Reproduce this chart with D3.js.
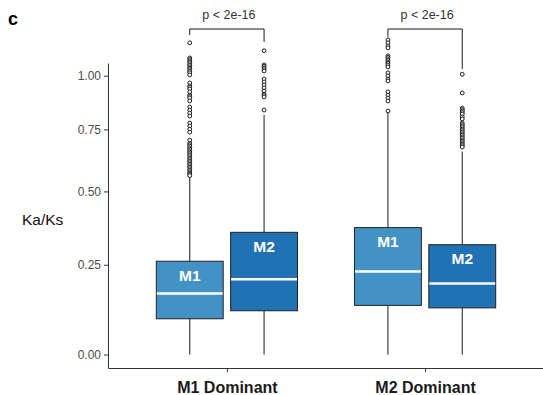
<!DOCTYPE html>
<html>
<head>
<meta charset="utf-8">
<script src="https://cdn.jsdelivr.net/npm/d3@7"></script>
<style>
  html, body { margin: 0; padding: 0; background: #fff; }
  svg { display: block; font-family: "Liberation Sans", Arial, sans-serif; }
</style>
</head>
<body>
<svg id="chart" width="543" height="395"></svg>
<script>
// groups on the x axis and the two series dodged inside each group
const groups = ['M1 Dominant', 'M2 Dominant'];
const series = ['M1', 'M2'];

// box stats, one row per group, one column per series
const whiskerLow = [[0, 0], [0, 0]];
const q1 = [[0.093, 0.115], [0.130, 0.123]];
const medians = [[0.164, 0.206], [0.229, 0.193]];
const q3 = [[0.261, 0.355], [0.371, 0.314]];
const whiskerHigh = [[0.556, 0.814], [0.829, 0.656]];

// outlying points
const outliers = [
  [
    [1.17, 1.09, 1.082, 1.075, 1.068, 1.06, 1.052, 1.044, 1.037, 1.03, 1.022, 1.014, 1.004,
     0.964, 0.95, 0.943, 0.935, 0.921, 0.906, 0.899, 0.892, 0.878, 0.85, 0.836, 0.823, 0.809,
     0.778, 0.765, 0.751, 0.738, 0.704, 0.691, 0.685, 0.679, 0.672, 0.666, 0.66, 0.654, 0.648,
     0.642, 0.635, 0.629, 0.623, 0.617, 0.611, 0.605, 0.599, 0.593, 0.587, 0.581, 0.575, 0.57,
     0.565, 0.56],
    [1.128, 1.054, 1.047, 1.039, 1.031, 1.023, 0.983, 0.969, 0.954, 0.94, 0.925, 0.911,
     0.904, 0.897, 0.836]
  ],
  [
    [1.186, 1.17, 1.153, 1.143, 1.101, 1.093, 1.085, 1.077, 1.069, 1.062, 1.054, 1.044,
     1.014, 0.999, 0.983, 0.974, 0.921, 0.906, 0.892, 0.878, 0.832],
    [1.007, 0.916, 0.845, 0.838, 0.832, 0.825, 0.818, 0.805, 0.796, 0.778, 0.771, 0.765,
     0.758, 0.751, 0.745, 0.738, 0.731, 0.725, 0.718, 0.712, 0.705, 0.699, 0.693, 0.687,
     0.681, 0.675]
  ]
];

// significance brackets: label, bar height, lower end of left / right tips
const pLabels = ['p < 2e-16', 'p < 2e-16'];
const bracketTop = [1.246, 1.246];
const tipLeft = [1.213, 1.202];
const tipRight = [1.175, 1.034];

const yTicks = [0, 0.25, 0.5, 0.75, 1];
const fills = ['#4292c6', '#2171b5'];

const svg = d3.select('#chart');
const padL = 108, padR = 544, padT = 63, padB = 368;

// log(1 + x) axis
const y = d3.scaleSymlog().constant(1).domain([-0.034, 1.064]).range([padB, padT]);
const x = d3.scalePoint().domain(groups).range([padL, padR]).padding(0.6);
const step = x.step();
const sub = d3.scaleBand().domain(series)
  .range([-step * 0.375, step * 0.375])
  .paddingInner(0.1).paddingOuter(0.05);
const bw = sub.bandwidth();

// axes
const yAxis = svg.append('g')
  .attr('transform', `translate(${padL},0)`)
  .call(d3.axisLeft(y).tickValues(yTicks).tickFormat(d3.format('.2f')).tickSize(4).tickPadding(3).tickSizeOuter(0));
yAxis.select('.domain').attr('stroke', '#333');
yAxis.selectAll('.tick line').attr('stroke', '#333');
yAxis.selectAll('.tick text').attr('fill', '#4d4d4d').attr('font-size', 12)
  .attr('font-family', '"Liberation Sans", Arial, sans-serif');

const xAxis = svg.append('g')
  .attr('transform', `translate(0,${padB})`)
  .call(d3.axisBottom(x).tickSize(4).tickPadding(10).tickSizeOuter(0));
xAxis.select('.domain').attr('stroke', '#333');
xAxis.selectAll('.tick line').attr('stroke', '#333');
xAxis.selectAll('.tick text').attr('fill', '#1a1a1a').attr('font-size', 16)
  .attr('font-weight', 'bold').attr('font-family', '"Liberation Sans", Arial, sans-serif');

// boxes
const boxes = [];
groups.forEach((g, gi) => series.forEach((s, si) => {
  boxes.push({
    g, s, gi, si,
    cx: x(g) + sub(s) + bw / 2,
    lo: whiskerLow[gi][si], q1: q1[gi][si], med: medians[gi][si],
    q3: q3[gi][si], hi: whiskerHigh[gi][si], out: outliers[gi][si]
  });
}));

const bx = svg.append('g').selectAll('g').data(boxes).join('g');

bx.append('line')
  .attr('x1', d => d.cx).attr('x2', d => d.cx)
  .attr('y1', d => y(d.q3)).attr('y2', d => y(d.hi))
  .attr('stroke', '#1a1a1a').attr('stroke-width', 1);
bx.append('line')
  .attr('x1', d => d.cx).attr('x2', d => d.cx)
  .attr('y1', d => y(d.q1)).attr('y2', d => y(d.lo))
  .attr('stroke', '#1a1a1a').attr('stroke-width', 1);

bx.append('rect')
  .attr('x', d => d.cx - bw / 2).attr('width', bw)
  .attr('y', d => y(d.q3)).attr('height', d => y(d.q1) - y(d.q3))
  .attr('fill', d => fills[d.si])
  .attr('stroke', '#222').attr('stroke-width', 1);

bx.append('line')
  .attr('x1', d => d.cx - bw / 2 + 0.5).attr('x2', d => d.cx + bw / 2 - 0.5)
  .attr('y1', d => y(d.med)).attr('y2', d => y(d.med))
  .attr('stroke', '#fff').attr('stroke-width', 2.5);

bx.append('text')
  .attr('x', d => d.cx).attr('y', d => y(d.q3) + 19.5)
  .attr('text-anchor', 'middle')
  .attr('fill', '#fff').attr('font-size', 15.5).attr('font-weight', 'bold')
  .text(d => d.s);

bx.selectAll('circle').data(d => d.out.map(v => ({ cx: d.cx, v }))).join('circle')
  .attr('cx', d => d.cx).attr('cy', d => y(d.v)).attr('r', 1.9)
  .attr('fill', '#fff').attr('stroke', '#1a1a1a').attr('stroke-width', 1);

// brackets
const br = svg.append('g').selectAll('g').data(groups).join('g');
br.append('path')
  .attr('d', (g, i) => {
    const xl = x(g) + sub('M1') + bw / 2, xr = x(g) + sub('M2') + bw / 2;
    return `M${xl},${y(tipLeft[i])}V${y(bracketTop[i])}H${xr}V${y(tipRight[i])}`;
  })
  .attr('fill', 'none').attr('stroke', '#1a1a1a').attr('stroke-width', 1);
br.append('text')
  .attr('x', g => x(g) + 2)
  .attr('y', (g, i) => y(bracketTop[i]) - 10)
  .attr('text-anchor', 'middle')
  .attr('fill', '#333').attr('font-size', 12.5)
  .text((g, i) => pLabels[i]);

// axis title and panel letter
svg.append('text')
  .attr('x', 22).attr('y', 225)
  .attr('fill', '#111').attr('font-size', 15.5)
  .text('Ka/Ks');
svg.append('text')
  .attr('x', 8).attr('y', 25)
  .attr('fill', '#000').attr('font-size', 18).attr('font-weight', 'bold')
  .text('c');
</script>
</body>
</html>
